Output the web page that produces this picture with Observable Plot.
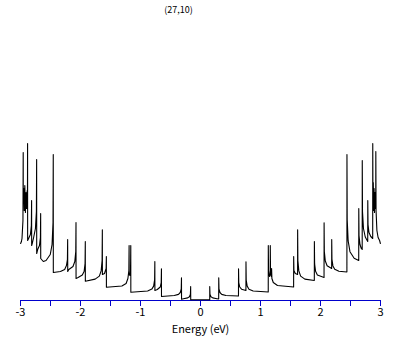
<!DOCTYPE html>
<html><head><meta charset="utf-8">
<script src="https://cdn.jsdelivr.net/npm/d3@7"></script>
<script src="https://cdn.jsdelivr.net/npm/@observablehq/plot@0.6"></script>
<style>body{margin:0;background:#fff} svg{display:block}</style>
</head><body><div id="chart"></div>
<script>
const title = "(27,10)";
const xLabel = "Energy (eV)";
// vertices of the DOS trace (energy in eV, DOS in arbitrary units)
const energy = [
-2.998,-2.985,-2.975,-2.959,-2.955,
-2.954,-2.945,-2.937,-2.928,-2.918,-2.908,-2.898,-2.889,-2.884,
-2.882,-2.881,
-2.865,-2.835,-2.819,-2.815,-2.814,
-2.800,-2.781,-2.751,-2.735,-2.731,-2.730,
-2.714,-2.684,-2.668,-2.664,-2.663,
-2.620,-2.574,-2.504,-2.474,-2.458,-2.454,-2.453,
-2.334,-2.264,-2.234,-2.218,-2.214,-2.213,
-2.195,-2.125,-2.095,-2.079,-2.075,-2.074,
-2.040,-1.970,-1.940,-1.924,-1.920,-1.919,
-1.756,-1.686,-1.656,-1.640,-1.636,-1.635,
-1.600,-1.573,-1.569,-1.568,
-1.310,-1.240,-1.210,-1.194,-1.190,-1.188,-1.172,-1.166,-1.162,-1.161,
-0.881,-0.811,-0.781,-0.765,-0.761,-0.760,
-0.720,-0.671,-0.655,-0.651,-0.650,
-0.437,-0.367,-0.337,-0.321,-0.317,-0.316,
-0.284,-0.214,-0.184,-0.168,-0.164,-0.163,
0.154,0.154,0.158,0.174,0.204,0.274,0.303,
0.304,0.308,0.324,0.354,0.424,0.633,
0.634,0.638,0.654,0.684,0.757,
0.758,0.762,0.778,0.808,0.878,1.129,
1.130,1.134,1.150,1.162,1.163,1.167,1.180,1.185,1.190,1.213,1.283,1.552,
1.553,1.557,1.580,1.618,
1.619,1.623,1.639,1.669,1.739,1.897,
1.898,1.902,1.918,1.948,2.059,
2.060,2.064,2.080,2.110,2.186,
2.187,2.191,2.207,2.237,2.307,2.440,
2.441,2.445,2.461,2.491,2.561,2.637,
2.638,2.642,2.658,2.680,2.695,
2.696,2.700,2.716,2.746,2.787,
2.788,2.792,2.808,2.838,2.870,
2.871,2.874,2.880,2.886,2.893,2.900,2.907,2.914,2.921,
2.922,2.926,2.940,2.960,2.985,2.998
];
const dos = [
57,59,62,80,148,
100,112,90,115,88,108,92,110,100,
157,60,
62,66,75,100,55,
58,63,72,89,141,47,
51,55,63,87,42,
39,40,46,56,78,146,28,
29,31,35,41,61,29,
31,34,39,49,78,22,
23,25.4,29,37,59,19.3,
21.4,24.4,29.6,40,70.7,26,
27,32,44,13.3,
14.5,17,22,30,55,26,25,30,55,8.3,
9.5,11.4,14.4,20.6,39,10,
11,13.5,18,31.7,4,
5,6.1,8,11.7,22.7,1.3,
1.8,2.6,3.8,6.4,14,0.7,
0.7,14,6.4,3.8,2.6,1.8,1.5,
22.7,11.7,8.0,6.1,5.0,4.5,
31.7,18,13.5,11.3,10,
38.7,20.5,14.4,11.3,9.5,8.5,
55,30,24,26,55,30,24,32,22,18,15,13.5,
44,30,27,26,
70.7,40,29.6,24.4,21.4,20,
59,36.6,29.2,25.4,23,
77.7,49,39.5,34.8,32,
61,41.2,34.6,31.3,29.3,28.5,
146,81,59.6,48.8,42.3,40,
92,65,56,52,51,
140,89,72,63.5,59,
100,76,68,64,62,
157,100,118,90,112,88,108,92,100,
149,90,70,63,60,57
];
const minorTicks = [-3,-2.5,-2,-1.5,-1,-0.5,0,0.5,1,1.5,2,2.5,3];
const labelTicks = [-3,-2,-1,0,1,2,3];

const points = energy.map((e, i) => ({energy: e, dos: dos[i]}));
const blue = "#0000cc";

const chart = Plot.plot({
  width: 409, height: 345,
  marginLeft: 20, marginRight: 29, marginTop: 140, marginBottom: 45,
  style: {fontFamily: "'Noto Sans CJK JP', sans-serif", fontSize: "11px", background: "#fff", overflow: "visible"},
  x: {domain: [-3, 3], label: null},
  y: {domain: [0, 160], axis: null},
  marks: [
    Plot.ruleY([0], {stroke: blue}),
    Plot.axisX(minorTicks, {tickSize: 6, stroke: blue, tickFormat: () => "", label: null}),
    Plot.axisX(labelTicks, {tickSize: 0, tickPadding: 8, fill: "black", fontSize: 11, tickFormat: d => String(d), label: null}),
    Plot.line(points, {x: "energy", y: "dos", stroke: "black", strokeWidth: 1.1}),
    Plot.text([title], {frameAnchor: "top", dy: -134, dx: -22, fontSize: 9}),
    Plot.text([xLabel], {frameAnchor: "bottom", dy: 32, fontSize: 11})
  ]
});
document.getElementById("chart").appendChild(chart);
</script>
</body></html>
